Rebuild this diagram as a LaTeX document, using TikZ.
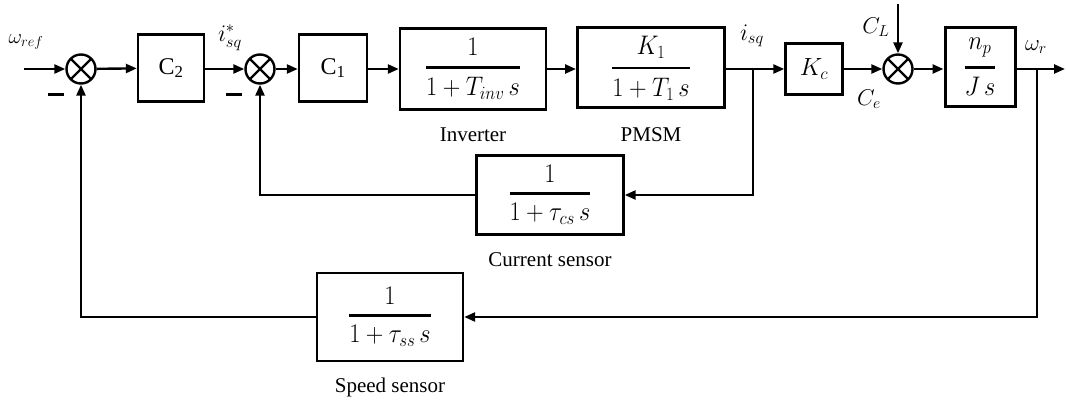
\documentclass[tikz,border=0pt]{standalone}
\usepackage{amsmath}
\usepackage{graphicx}
\usepackage{fontspec}
\setmainfont{Liberation Serif}
\usetikzlibrary{arrows.meta}
\tikzset{
  every node/.style={font=\fontsize{21}{25}\selectfont},
  blk/.style={draw, line width=2.4pt, inner sep=0pt},
  frac/.style={font=\fontsize{23}{27}\selectfont},
  big/.style={font=\fontsize{24}{28}\selectfont},
  mlbl/.style={inner sep=0pt, font=\fontsize{22}{26}\selectfont},
  sumj/.style={draw, circle, line width=2.4pt, minimum size=29pt, inner sep=0pt,
    path picture={\draw[line width=2.4pt]
      (path picture bounding box.north west) -- (path picture bounding box.south east)
      (path picture bounding box.north east) -- (path picture bounding box.south west);}},
  wire/.style={line width=2.4pt},
  arr/.style={wire, -{Triangle[length=11pt,width=9pt]}},
  lbl/.style={inner sep=0pt}
}
\newcommand{\fr}[2]{\scalebox{0.98}[1.08]{$\genfrac{}{}{2.6pt}{0}{#1}{#2}$}}
\begin{document}
\begin{tikzpicture}[x=1pt,y=-1pt]
\useasboundingbox (0,0) rectangle (1066,401);
% forward path
\coordinate (in) at (24,69);
\node[sumj] (s1) at (81,69) {};
\node[blk, big, minimum width=66pt, minimum height=67pt] (c2) at (171,68) {C\textsubscript{2}};
\node[sumj] (s2) at (260,69) {};
\node[blk, big, minimum width=68pt, minimum height=67pt] (c1) at (333,68) {C\textsubscript{1}};
\node[blk, frac, minimum width=146pt, minimum height=81pt] (inv) at (473,69) {\fr{1}{1+T_{inv}\,s}};
\node[blk, frac, line width=3pt, minimum width=147pt, minimum height=80pt] (pmsm) at (651,68) {\fr{K_1}{1+T_1\,s}};
\coordinate (b1) at (753,69);
\node[blk, big, minimum width=57pt, minimum height=51pt] (kc) at (814,69) {$K_c$};
\node[sumj] (s3) at (898,69) {};
\coordinate (cl) at (898,4);
\node[blk, frac, line width=3pt, minimum width=70pt, minimum height=79pt] (np) at (980,67) {\fr{n_p}{J\,s}};
\coordinate (b2) at (1037,69);
\coordinate (out) at (1065,69);
% feedback blocks
\node[blk, frac, minimum width=147pt, minimum height=79pt] (cs) at (550,195) {\fr{1}{1+\tau_{cs}\,s}};
\node[blk, frac, minimum width=146pt, minimum height=88pt] (ss) at (390,317) {\fr{1}{1+\tau_{ss}\,s}};
% connectors
\draw[arr] (in) -- (s1);
\draw[arr] (s1) -- (c2);
\draw[arr] (c2.east |- s2) -- (s2);
\draw[arr] (s2) -- (c1.west |- s2);
\draw[arr] (c1.east |- inv) -- (inv);
\draw[arr] (inv) -- (pmsm.west |- inv);
\draw[arr] (pmsm.east |- b1) -- (kc);
\draw[arr] (kc) -- (s3);
\draw[arr] (cl) -- (s3);
\draw[arr] (s3) -- (np.west |- s3);
\draw[arr] (np.east |- out) -- (out);
\draw[arr] (b1) |- (cs);
\draw[arr] (cs) -| (s2);
\draw[arr] (b2) |- (ss);
\draw[arr] (ss) -| (s1);
% labels
\node[mlbl] (wref) at (26,42) {$\omega_{ref}$};
\node[lbl] (m1) at (56,95) {\rule{16pt}{3pt}};
\node[lbl] (m2) at (234,95) {\rule{16pt}{3pt}};
\node[mlbl] (isqs) at (230,38) {\scalebox{1.15}{$i_{sq}^{*}$}};
\node[mlbl] (isq) at (752,36) {\scalebox{1.15}{$i_{sq}$}};
\node[mlbl] (cL) at (876,27) {\scalebox{1.1}{$C_L$}};
\node[mlbl] (ce) at (869,99) {\scalebox{1.1}{$C_e$}};
\node[mlbl] (wr) at (1036,47) {\scalebox{1.1}{$\omega_r$}};
\node[lbl] (tinv) at (473,135) {Inverter};
\node[lbl] (tpm) at (651,135) {PMSM};
\node[lbl] (tcs) at (550,260) {Current sensor};
\node[lbl] (tss) at (390,387) {Speed sensor};
\end{tikzpicture}
\end{document}
